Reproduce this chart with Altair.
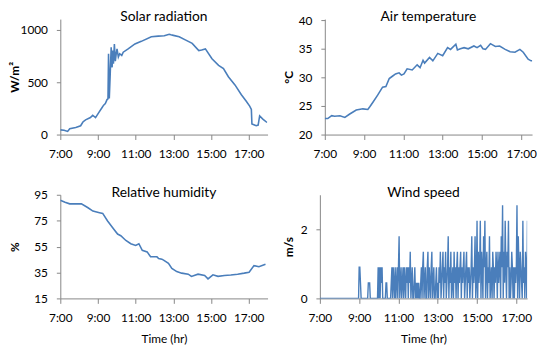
import altair as alt
import pandas as pd

# ---------------- data ----------------
solar_t = [7.0, 7.2, 7.39, 7.5, 7.82, 8.08, 8.2, 8.34, 8.6, 8.72, 8.87, 9.04, 9.21, 9.3, 9.39, 9.48,
           9.53, 9.56, 9.6, 9.65, 9.70, 9.75, 9.78, 9.82, 9.87, 9.92, 9.96, 10.01, 10.08, 10.15, 10.26,
           10.34, 10.6, 10.96, 11.3, 11.83, 12.2, 12.52, 12.78, 12.87, 13.0, 13.31, 13.66, 14.0, 14.35,
           14.5, 14.70, 15.05, 15.4, 15.66, 15.92, 16.27, 16.61, 16.87, 17.05, 17.14, 17.17, 17.4, 17.5,
           17.58, 17.75, 17.97]
solar_v = [45, 42, 30, 55, 68, 84, 120, 140, 162, 184, 162, 209, 255, 280, 296, 333,
           340, 770, 345, 582, 832, 640, 800, 676, 863, 700, 760, 816, 738, 770, 754,
           785, 816, 863, 888, 931, 938, 941, 956, 951, 945, 931, 900, 869, 800,
           805, 816, 722, 660, 629, 551, 473, 380, 318, 271, 240, 100, 84, 90,
           178, 147, 115]

temp_t = [7.0, 7.15, 7.35, 7.5, 7.77, 8.02, 8.27, 8.6, 8.94, 9.19, 9.3, 9.44, 9.69, 9.94, 10.11,
          10.28, 10.44, 10.6, 10.78, 10.9, 11.03, 11.19, 11.45, 11.7, 11.85, 12.0, 12.08, 12.33,
          12.5, 12.75, 13.0, 13.25, 13.4, 13.67, 13.75, 13.9, 14.09, 14.3, 14.59, 14.75, 14.93,
          15.05, 15.18, 15.43, 15.68, 15.9, 16.18, 16.43, 16.68, 16.93, 17.1, 17.35, 17.5, 17.69,
          17.94]
temp_v = [22.8, 22.8, 23.3, 23.2, 23.3, 23.0, 23.6, 24.3, 24.5, 24.4, 24.9, 25.6, 26.9, 28.3, 28.4,
          29.8, 30.2, 30.6, 30.8, 30.4, 30.6, 31.5, 31.3, 32.2, 31.7, 33.0, 32.5, 33.5,
          32.9, 34.2, 33.8, 35.2, 34.9, 35.8, 34.8, 35.0, 35.2, 35.0, 35.5, 35.2, 35.6,
          35.0, 34.9, 35.9, 35.4, 35.5, 34.9, 34.5, 34.4, 34.9, 34.4, 33.2, 32.9, 32.9,
          32.7]

rh_t = [7.0, 7.25, 7.5, 8.12, 8.47, 8.73, 9.08, 9.25, 9.51, 9.77, 10.04, 10.21, 10.48, 10.74, 11.0,
        11.17, 11.35, 11.61, 11.79, 12.13, 12.22, 12.39, 12.48, 12.74, 12.92, 13.18, 13.44, 13.79,
        13.96, 14.31, 14.66, 14.84, 15.1, 15.37, 15.71, 16.05, 16.41, 16.76, 17.02, 17.28, 17.54,
        17.89]
rh_v = [90.7, 89.2, 88.0, 88.0, 85.0, 82.4, 81.2, 80.6, 74.8, 69.8, 64.7, 63.4, 59.7, 57.2, 55.9,
        57.2, 52.1, 50.9, 47.1, 47.1, 45.8, 45.3, 44.5, 42.0, 38.2, 35.7, 34.5, 33.7,
        32.0, 33.7, 32.7, 30.1, 33.2, 32.0, 32.7, 33.0, 33.7, 34.5, 35.2, 40.3, 39.5,
        41.3]

# wind speed: calm 7:00-8:58, then every 2 minutes from 9:00 to 18:00
wind_calm_t = [7.0, 8.97]
wind_calm_v = [0, 0]
wind_v = [
    0.9, 0.9, 0.45, 0, 0, 0, 0, 0, 0, 0, 0, 0, 0, 0, 0.45,
    0.45, 0.45, 0, 0, 0, 0, 0, 0, 0, 0, 0, 0, 0, 0, 0.9,
    0, 0.9, 0, 0.9, 0.45, 0.9, 0, 0, 0, 0, 0, 0.45, 0.45, 0, 0,
    0, 0, 0, 0, 0.45, 0.9, 0, 0.9, 0.45, 0, 0.9, 0, 0.45, 0.9, 0,
    0.9, 1.8, 0, 0.45, 0.9, 0, 0.45, 0.9, 0, 0.9, 0.45, 0, 0.9, 0.45, 0.9,
    0, 0.9, 0.45, 1.35, 0, 0.45, 0.9, 0, 0, 0.45, 0.9, 0, 0.45, 0, 0.45,
    0, 0.45, 0, 0, 0.45, 0.9, 0, 0.9, 1.35, 0, 0.45, 0.9, 0, 0, 0.9,
    1.35, 0, 0.9, 0.45, 0, 0.9, 1.35, 0, 0.45, 0.9, 0, 0, 0.45, 0.9, 0,
    0.45, 0, 0.9, 0.45, 1.35, 0, 0.45, 0.9, 1.35, 0, 0.9, 0.45, 1.35, 0, 0.45,
    0.9, 1.8, 0, 0.9, 0.45, 1.35, 0, 0.45, 0.9, 0, 1.35, 0.45, 0.9, 0, 0.9,
    1.35, 0, 0.9, 0.45, 0.9, 1.35, 0, 0.9, 0.45, 0.9, 1.35, 0, 0.45, 0.9, 1.35,
    0, 0.9, 0.45, 0.9, 0, 0.45, 0.9, 1.8, 0, 0.9, 0.45, 0.9, 1.8, 0, 0.45,
    2.25, 0, 1.35, 0.45, 0.9, 2.25, 0, 1.35, 0.9, 0, 1.8, 0.9, 2.25, 0, 0.9,
    1.35, 0, 0.9, 0.45, 1.8, 0, 0.45, 0.9, 0, 1.35, 0.9, 0, 0.9, 0.45, 1.35,
    0.9, 0, 1.35, 0.45, 0.9, 1.35, 0, 1.8, 0.9, 2.7, 0, 1.35, 0.45, 2.25, 0.9,
    0, 1.35, 0.9, 2.25, 0, 0.9, 0, 0.45, 1.35, 0.9, 0, 0.9, 0, 0.9, 0.45,
    0.9, 2.7, 0, 1.8, 0.9, 0, 1.35, 0.9, 0.45, 0, 2.25, 0.45, 0.9, 0, 1.35,
    0.9, 0, 2.25, 0.9, 0.45, 1.35, 0, 0.45, 0.9, 0, 0.9, 0.45, 1.35, 0.9, 0,
    0.9]
wind_t = wind_calm_t + [9 + i * 2 / 60 for i in range(len(wind_v))]
wind_all = wind_calm_v + wind_v

hour_ticks = [7, 9, 11, 13, 15, 17]

BLUE = "#4A7EBB"
FONT = "Lato"
AX = "#868686"


def panel(t, v, ydom, yticks, ytitle, title, w, h, xmax, ytx, xtitle=None, sw=1.6):
    df = pd.DataFrame({"t": t, "v": v})
    xaxis = alt.Axis(values=hour_ticks, labelExpr="datum.value + ':00'", grid=False,
                     labelFlush=False, labelOverlap=False,
                     tickSize=5, labelPadding=9, labelFontSize=12,
                     title=xtitle if xtitle else "", titleFontWeight="normal",
                     titleFontSize=12, titlePadding=11)
    yaxis = alt.Axis(values=yticks, grid=False, tickSize=4, labelPadding=9, labelFontSize=12,
                     format="d", labelFlush=False,
                     title=ytitle, titleFontWeight="bold", titleFontSize=12,
                     titleX=ytx, titleY=h / 2, titleAngle=-90, titleBaseline="middle",
                     titleAlign="center")
    line = alt.Chart(df).mark_line(color=BLUE, strokeWidth=sw, clip=True).encode(
        x=alt.X("t:Q", scale=alt.Scale(domain=[7, xmax], nice=False, zero=False), axis=xaxis),
        y=alt.Y("v:Q", scale=alt.Scale(domain=ydom, nice=False, zero=False), axis=yaxis),
    )
    ttl = alt.Chart(pd.DataFrame({"s": [title]})).mark_text(
        font=FONT, fontSize=14, baseline="alphabetic", align="center", color="black"
    ).encode(text="s:N", x=alt.value(w / 2), y=alt.value(2))
    return alt.layer(line, ttl).properties(width=w, height=h)


p1 = panel(solar_t, solar_v, [0, 1100], [0, 500, 1000], "W/m²", "Solar radiation",
           210, 117, 18, -46)
p2 = panel(temp_t, temp_v, [20, 40.2], [20, 25, 30, 35, 40], "°C", "Air temperature",
           210, 117, 17.55, -37)
p3 = panel(rh_t, rh_v, [15, 95], [15, 35, 55, 75, 95], "%", "Relative humidity",
           210, 105, 18, -46, xtitle="Time (hr)")
p4 = panel(wind_t, wind_all, [0, 3], [0, 2], "m/s", "Wind speed",
           210, 105, 17.55, -32, xtitle="Time (hr)", sw=1.4)

chart = alt.vconcat(
    alt.hconcat(p1, p2, spacing=15),
    alt.hconcat(p3, p4, spacing=15),
    spacing=27,
).properties(
    padding={"left": 0, "top": 0, "right": 0, "bottom": 0}
).configure_view(stroke=None).configure_axis(
    domainColor=AX, tickColor=AX, labelColor="black", titleColor="black",
    labelFont=FONT, titleFont=FONT,
).configure_concat(spacing=15)

chart.save("out.html", embed_options={"renderer": "svg", "actions": False})
